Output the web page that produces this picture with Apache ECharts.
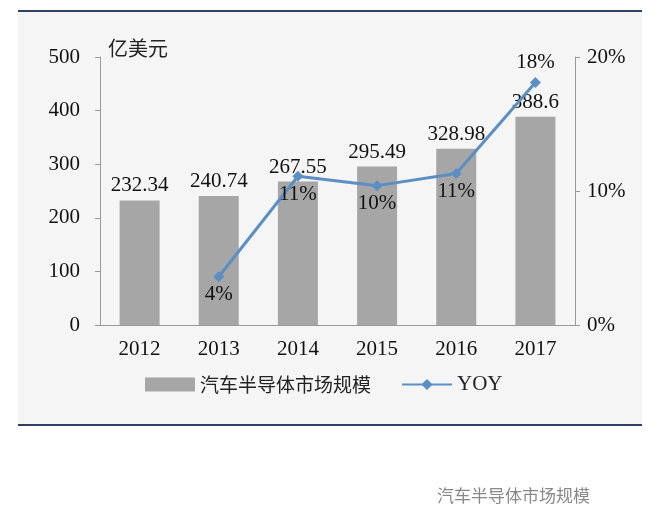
<!DOCTYPE html><html><head><meta charset="utf-8"><script src="https://cdn.jsdelivr.net/npm/echarts@6/dist/echarts.min.js"></script>
<style>body{margin:0;background:#fff}#bg{position:absolute;left:18px;top:10px;width:624px;height:412px;background:#f5f5f5;border-top:2px solid #2f3f66;border-bottom:2px solid #2f3f66}#c{position:absolute;left:0;top:0;width:660px;height:520px}</style></head><body>
<div id="bg"></div><div id="c"></div>
<script>
const years=['2012','2013','2014','2015','2016','2017'];
const market=[232.34,240.74,267.55,295.49,328.98,388.6];
const yoy=[null,3.6,11.1,10.4,11.3,18.1];
const yoyLabels=['','4%','11%','10%','11%','18%'];
const F='Liberation Serif';
const ch=echarts.init(document.getElementById('c'));
ch.setOption({
textStyle:{fontFamily:F},
grid:{left:100,right:85,top:57,bottom:195},
graphic:[{type:'text',left:108,top:38,style:{text:'亿美元',font:'20px "Noto Sans CJK SC"',fill:'#222'}},
{type:'text',left:437,top:487,style:{text:'汽车半导体市场规模',font:'17px "Noto Sans CJK SC"',fill:'#888'}}],
legend:{bottom:120,left:140,itemGap:30,itemWidth:50,itemHeight:14,textStyle:{fontFamily:'Noto Sans CJK SC',fontSize:19,color:'#222'},
data:[{name:'汽车半导体市场规模',icon:'rect'},{name:'YOY',textStyle:{fontFamily:F,fontSize:21}}]},
xAxis:{type:'category',data:years,axisTick:{show:false},axisLine:{lineStyle:{color:'#999'}},axisLabel:{color:'#111',fontSize:21,margin:14}},
yAxis:[{type:'value',min:0,max:500,interval:100,splitLine:{show:false},axisLine:{show:true,lineStyle:{color:'#999'}},axisTick:{show:true},axisLabel:{color:'#111',fontSize:21,margin:20}},
{type:'value',min:0,max:20,interval:10,splitLine:{show:false},axisLine:{show:true,lineStyle:{color:'#999'}},axisTick:{show:true},axisLabel:{color:'#111',fontSize:21,formatter:'{value}%',margin:12}}],
series:[{name:'汽车半导体市场规模',type:'bar',data:market,barWidth:40,itemStyle:{color:'#a6a6a6'},
label:{show:true,position:'top',color:'#111',fontSize:21,distance:4}},
{name:'YOY',type:'line',yAxisIndex:1,
data:yoy.map((v,i)=>i===5?{value:v,label:{position:'top',distance:4}}:v),
symbol:'diamond',symbolSize:11,lineStyle:{color:'#5b8fc4',width:3},itemStyle:{color:'#5b8fc4'},
label:{show:true,position:'bottom',distance:2,color:'#111',fontSize:21,formatter:p=>yoyLabels[p.dataIndex]}}]
});
</script></body></html>
